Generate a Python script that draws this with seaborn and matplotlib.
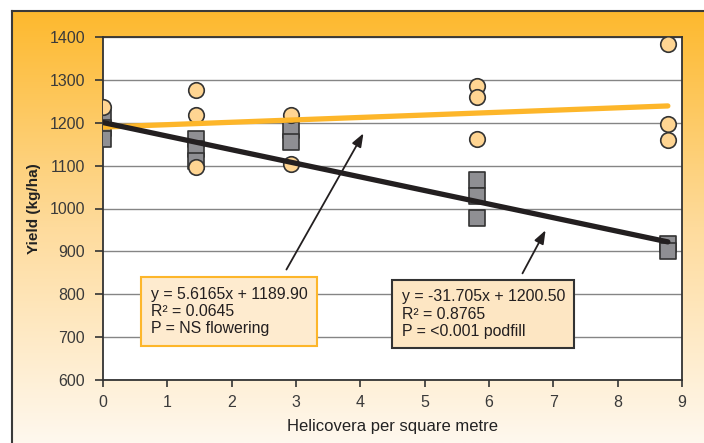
import numpy as np
import pandas as pd
import matplotlib
import matplotlib.pyplot as plt
import seaborn as sns
from matplotlib.colors import LinearSegmentedColormap

# flowering (circles) and podfill (squares) yields
flower_x = [0, 1.45, 1.45, 1.45, 2.92, 2.92, 5.82, 5.82, 5.82, 8.78, 8.78, 8.78]
flower_y = [1236, 1276, 1218, 1096, 1218, 1104, 1286, 1259, 1162, 1383, 1196, 1160]
podfill_x = [0, 0, 0, 1.45, 1.45, 1.45, 2.92, 2.92, 5.82, 5.82, 5.82, 8.78, 8.78]
podfill_y = [1210, 1188, 1162, 1162, 1139, 1110, 1183, 1155, 1067, 1029, 978, 917, 901]

# regression coefficients (slope, intercept)
flower_fit = (5.6165, 1189.90)
podfill_fit = (-31.705, 1200.50)
fit_range = [0, 8.78]

flower_label = "y = 5.6165x + 1189.90\nR\u00b2 = 0.0645\nP = NS flowering"
podfill_label = "y = -31.705x + 1200.50\nR\u00b2 = 0.8765\nP = <0.001 podfill"

sns.set_style("white")
plt.rcParams['font.family'] = ['Liberation Sans', 'DejaVu Sans']

fig = plt.figure(figsize=(7.04, 4.43), dpi=100)

# orange gradient panel behind the chart
bg = fig.add_axes([12 / 704, 0, 1 - 12 / 704, 1 - 11 / 443], zorder=0)
grad = LinearSegmentedColormap.from_list('g', ['#fdb92e', '#fedb9c', '#fff8ee'])
bg.imshow(np.linspace(0, 1, 256).reshape(-1, 1), aspect='auto', cmap=grad,
          extent=[0, 1, 0, 1])
bg.set_xticks([])
bg.set_yticks([])
for side in ['right', 'bottom']:
    bg.spines[side].set_visible(False)
for side in ['left', 'top']:
    bg.spines[side].set_color('#3a3a3a')
    bg.spines[side].set_linewidth(1.5)

ax = fig.add_axes([103 / 704, 63 / 443, 579 / 704, 343 / 443], zorder=1)
ax.set_facecolor('white')

df_f = pd.DataFrame({'x': flower_x, 'y': flower_y})
df_p = pd.DataFrame({'x': podfill_x, 'y': podfill_y})

sns.scatterplot(data=df_p, x='x', y='y', marker='s', s=125, color='#8f8f93',
                edgecolor='#333333', linewidth=1.2, ax=ax, zorder=3)
sns.scatterplot(data=df_f, x='x', y='y', marker='o', s=125, color='#ffd592',
                edgecolor='#333333', linewidth=1.2, ax=ax, zorder=4)

fx = np.array(fit_range)
sns.lineplot(x=fx, y=flower_fit[0] * fx + flower_fit[1], color='#fdb62a',
             linewidth=3.8, ax=ax, zorder=5)
sns.lineplot(x=fx, y=podfill_fit[0] * fx + podfill_fit[1], color='#231f20',
             linewidth=3.8, ax=ax, zorder=6)

ax.set_xlim(0, 9)
ax.set_ylim(600, 1400)
ax.set_xticks(range(0, 10))
ax.set_yticks(range(600, 1401, 100))
ax.yaxis.grid(True, color='#858585', linewidth=1)
ax.set_axisbelow(True)
for s in ax.spines.values():
    s.set_color('#333333')
    s.set_linewidth(1.3)
ax.tick_params(axis='both', which='major', direction='out', length=5, width=1.2,
               color='#333333', labelsize=11.5, labelcolor='#3a3a3a', pad=6)
ax.tick_params(axis='y', length=6, pad=7)
ax.tick_params(left=True, bottom=True)

ax.set_xlabel('Helicovera per square metre', fontsize=12, color='#222222', labelpad=6)
ax.set_ylabel('Yield (kg/ha)', fontsize=11, fontweight='bold', color='#222222', labelpad=6)

# equation boxes and arrows
box_kw = dict(ha='left', va='top', fontsize=11.4, color='#231f20',
              linespacing=1.2, zorder=8)
ax.text(0.74, 818, flower_label, **box_kw,
        bbox=dict(boxstyle='square,pad=0.6', facecolor='#feebcf',
                  edgecolor='#fdb62a', linewidth=1.5))
ax.text(4.64, 812, podfill_label, **box_kw,
        bbox=dict(boxstyle='square,pad=0.6', facecolor='#fde6c3',
                  edgecolor='#333333', linewidth=1.5))

ax.annotate('', xy=(4.07, 1181), xytext=(2.83, 852), zorder=7,
            arrowprops=dict(arrowstyle='-|>,head_length=0.8,head_width=0.3',
                            color='#231f20', lw=1.3))
ax.annotate('', xy=(6.90, 955), xytext=(6.50, 843), zorder=7,
            arrowprops=dict(arrowstyle='-|>,head_length=0.8,head_width=0.3',
                            color='#231f20', lw=1.3))

fig.savefig('out.png', dpi=100)
